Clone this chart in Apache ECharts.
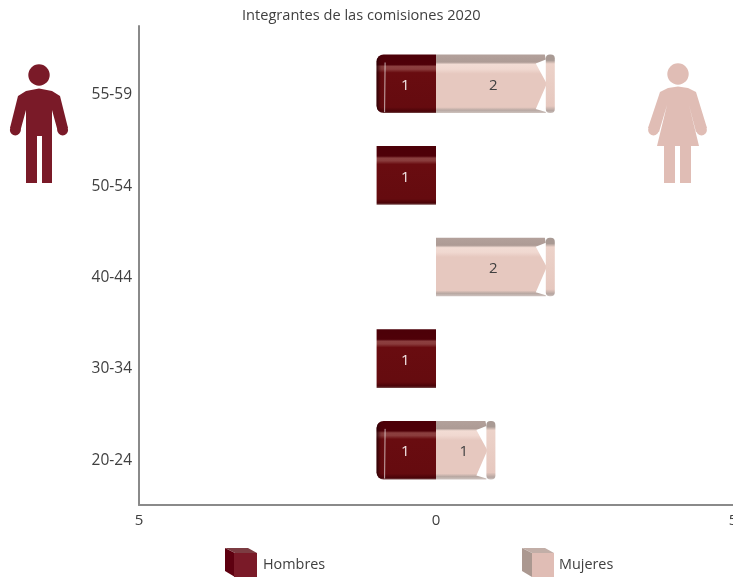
<!DOCTYPE html>
<html>
<head>
<meta charset="utf-8">
<style>html,body{margin:0;padding:0;background:#fff}#c{width:733px;height:577px}</style>
<script src="https://cdn.jsdelivr.net/npm/echarts@6/dist/echarts.min.js"></script>
</head>
<body>
<div id="c"></div>
<script>
const title = 'Integrantes de las comisiones 2020';
const categories = ['20-24', '30-34', '40-44', '50-54', '55-59'];
const hombres = [1, 1, 0, 1, 1];
const mujeres = [1, 0, 2, 0, 2];
const xTicks = [-5, 0, 5];

const FONT = '"Open Sans", "Noto Sans", sans-serif';
const TXT = '#404040';
const G = (stops, horizontal) => new echarts.graphic.LinearGradient(0, 0, horizontal ? 1 : 0, horizontal ? 0 : 1,
  stops.map(s => ({ offset: s[0], color: s[1] })));
const maleFill = () => G([[0, '#4c0008'], [0.17, '#4f0008'], [0.205, '#8b3f3f'], [0.25, '#8a3c3c'], [0.31, '#690c10'], [0.9, '#650b0f'], [0.97, '#4a0308'], [1, '#7a5050']]);
const femaleFill = () => G([[0, '#b3a19b'], [0.13, '#ad9b95'], [0.17, '#f2dcd4'], [0.25, '#f0d8d0'], [0.33, '#e6c8bf'], [0.9, '#e6c8bf'], [0.95, '#b8a8a2'], [1, '#cfc4c0']]);

function barItem(kind) {
  return function (params, api) {
    const v = api.value(0), cat = api.value(1);
    if (!v) return null;
    const sign = kind === 'm' ? -1 : 1;
    const p0 = api.coord([0, cat]);
    const p1 = api.coord([sign * v, cat]);
    const band = api.size([0, 1])[1];
    const h = band * 0.64;
    const t = p0[1] - h / 2, b = t + h, c = p0[1];
    const kids = [];
    const idx = params.dataIndex;
    const fs = '15px ' + FONT;
    if (kind === 'm') {
      const capped = mujeres[idx] > 0;
      kids.push({ type: 'rect', shape: { x: p1[0], y: t, width: p0[0] - p1[0], height: h, r: capped ? [7, 0, 0, 7] : 0 }, style: { fill: maleFill() } });
      if (capped) {
        kids.push({ type: 'rect', shape: { x: p1[0], y: t, width: 9, height: h, r: [7, 0, 0, 7] },
          style: { fill: G([[0, 'rgba(30,0,4,0.8)'], [0.5, 'rgba(60,0,6,0.15)'], [1, 'rgba(60,0,6,0)']], true) } });
        kids.push({ type: 'line', shape: { x1: p1[0] + 8.5, y1: t + 8, x2: p1[0] + 8, y2: b - 1 }, style: { stroke: 'rgba(235,225,225,0.75)', lineWidth: 1 } });
      }
      kids.push({ type: 'text', style: { text: String(v), x: (p0[0] + p1[0]) / 2 - 1, y: c + 2, align: 'center', verticalAlign: 'middle', fill: '#f2e6e6', font: fs } });
    } else {
      const e = p1[0];
      kids.push({ type: 'polygon', shape: { points: [[p0[0], t], [e - 10, t], [e - 9, t + 5], [e - 19, t + 9], [e - 8, c], [e - 19, b - 4], [e - 9, b - 1], [e - 9, b], [p0[0], b]] }, style: { fill: femaleFill() } });
      kids.push({ type: 'rect', shape: { x: e - 9, y: t, width: 9, height: h, r: [4, 4, 4, 4] },
        style: { fill: G([[0, '#a99a94'], [0.1, '#a99a94'], [0.16, '#ecd2c9'], [0.88, '#e6c8bf'], [0.96, '#b5a5a0'], [1, '#cfc4c0']]) } });
      kids.push({ type: 'text', style: { text: String(v), x: (p0[0] + p1[0]) / 2 - 2, y: c + 2, align: 'center', verticalAlign: 'middle', fill: '#404040', font: fs } });
    }
    return { type: 'group', children: kids };
  };
}

const manBody = [[18,96],[26,91],[39,88.5],[52,91],[60,96],[68,128],[58,132],[52,110],[52,183],[42,183],[42,136],[37,136],[37,183],[26,183],[26,110],[20,132],[10,128]];
const womanBody = [[660,92],[668,88],[678,86.5],[688,88],[696,92],[707,128],[696,132],[689,105],[699,146],[691,146],[691,183],[680,183],[680,146],[675,146],[675,183],[664,183],[664,146],[657,146],[667,105],[659,132],[648,128]];
const MAN = '#7a1a28', WOMAN = '#e0bdb5';

function person(cx, cy, body, hands, fill) {
  return [
    { type: 'circle', silent: true, shape: { cx: cx, cy: cy, r: 10.7 }, style: { fill: fill } },
    { type: 'polygon', silent: true, shape: { points: body }, style: { fill: fill } },
    { type: 'circle', silent: true, shape: { cx: hands[0], cy: 130, r: 5.4 }, style: { fill: fill } },
    { type: 'circle', silent: true, shape: { cx: hands[1], cy: 130, r: 5.4 }, style: { fill: fill } }
  ];
}

function cube(x, side, top) {
  return [
    { type: 'polygon', silent: true, shape: { points: [[x, 548], [x + 10, 553], [x + 10, 577], [x, 571]] }, style: { fill: side } },
    { type: 'polygon', silent: true, shape: { points: [[x, 548], [x + 23, 548], [x + 32, 553], [x + 10, 553]] }, style: { fill: top } }
  ];
}

const AXIS = { color: '#8a8a8a', width: 2 };
const chart = echarts.init(document.getElementById('c'));
chart.setOption({
  animation: false,
  backgroundColor: '#fff',
  title: { text: title, left: 237, top: 3,
    textStyle: { fontFamily: FONT, fontSize: 14.6, fontWeight: 'normal', color: TXT } },
  legend: [
    { data: ['Hombres'], left: 234, top: 553, itemWidth: 23, itemHeight: 24, itemGap: 0, icon: 'rect', padding: 0,
      textStyle: { fontFamily: FONT, fontSize: 14.4, color: TXT, padding: [3, 0, 0, 1] } },
    { data: ['Mujeres'], left: 532, top: 553, itemWidth: 22, itemHeight: 24, itemGap: 0, icon: 'rect', padding: 0,
      textStyle: { fontFamily: FONT, fontSize: 14.4, color: TXT, padding: [3, 0, 0, 0] } }
  ],
  grid: [
    { left: 139, right: 0, top: 38, bottom: 81, outerBoundsMode: 'none' },
    { left: 139, right: 0, top: 26, bottom: 72, outerBoundsMode: 'none' },
    { left: 139, right: 0, top: 49, bottom: 71, outerBoundsMode: 'none' }
  ],
  xAxis: [
    { gridIndex: 0, type: 'value', min: -5, max: 5, show: false },
    { gridIndex: 1, type: 'value', min: xTicks[0], max: xTicks[2], interval: 5,
      axisLine: { show: true, onZero: false, lineStyle: AXIS }, axisTick: { show: false }, splitLine: { show: false },
      axisLabel: { color: TXT, fontFamily: FONT, fontSize: 15, margin: 8, formatter: v => String(Math.abs(v)), hideOverlap: false, alignMinLabel: 'center', alignMaxLabel: 'center' } },
    { gridIndex: 2, type: 'value', min: -5, max: 5, show: false }
  ],
  yAxis: [
    { gridIndex: 0, type: 'category', data: categories, show: false },
    { gridIndex: 1, type: 'category', data: categories,
      axisLine: { show: true, onZero: false, lineStyle: AXIS }, axisTick: { show: false }, axisLabel: { show: false }, splitLine: { show: false } },
    { gridIndex: 2, type: 'category', data: categories,
      axisLine: { show: false }, axisTick: { show: false }, splitLine: { show: false },
      axisLabel: { color: TXT, fontFamily: FONT, fontSize: 15.5, margin: 7 } }
  ],
  series: [
    { name: 'Hombres', type: 'custom', xAxisIndex: 0, yAxisIndex: 0, clip: false, itemStyle: { color: MAN },
      renderItem: barItem('m'), encode: { x: 0, y: 1 }, data: hombres.map((v, i) => [v, i]) },
    { name: 'Mujeres', type: 'custom', xAxisIndex: 0, yAxisIndex: 0, clip: false, itemStyle: { color: WOMAN },
      renderItem: barItem('f'), encode: { x: 0, y: 1 }, data: mujeres.map((v, i) => [v, i]) }
  ],
  graphic: [
    ...person(39, 75, manBody, [15.3, 62.7], MAN),
    ...person(678, 74, womanBody, [653.5, 701.5], WOMAN),
    ...cube(225, '#5e0010', '#7c3c42'),
    ...cube(522, '#ab9890', '#c2aea7')
  ]
});
</script>
</body>
</html>
